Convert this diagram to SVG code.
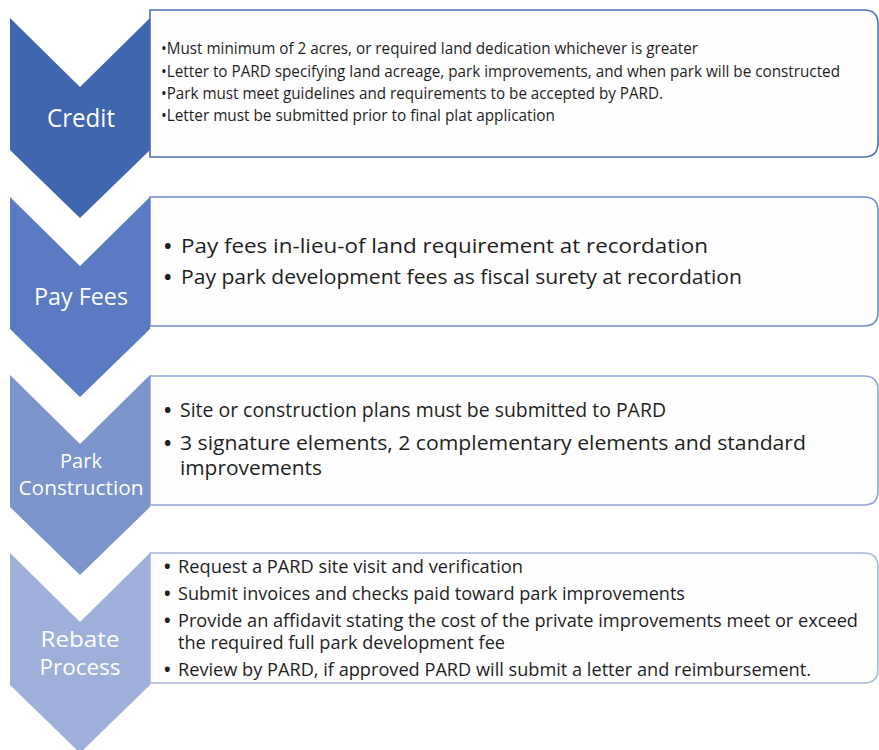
<svg xmlns="http://www.w3.org/2000/svg" width="879" height="750" viewBox="0 0 879 750">
<style>
.box{fill:#FEFEFE;stroke-width:1.6}
.lbl{font-family:"Open Sans","Noto Sans",sans-serif;fill:#FFFFFF;text-anchor:middle}
.t{font-family:"Open Sans","Noto Sans",sans-serif;fill:#1E1E1E}
.b{font-weight:bold}
</style>
<rect width="879" height="750" fill="#FFFFFF"/>
<g id="credit">
<path class="box" stroke="#4F70B5" d="M150,10 H864 Q878,10 878,24 V143 Q878,157 864,157 H150 Z"/>
<polygon fill="#4066B0" points="10,18 80,87 150,18 150,150 80,218 10,150"/>
<text class="lbl" x="81" y="127" font-size="25" textLength="68" lengthAdjust="spacingAndGlyphs">Credit</text>
<g class="t" font-size="15.5">
<text x="161" y="54" textLength="537" lengthAdjust="spacingAndGlyphs">•Must minimum of 2 acres, or required land dedication whichever is greater</text>
<text x="161" y="77" textLength="679" lengthAdjust="spacingAndGlyphs">•Letter to PARD specifying land acreage, park improvements, and when park will be constructed</text>
<text x="161" y="99" textLength="502" lengthAdjust="spacingAndGlyphs">•Park must meet guidelines and requirements to be accepted by PARD.</text>
<text x="161" y="121" textLength="394" lengthAdjust="spacingAndGlyphs">•Letter must be submitted prior to final plat application</text>
</g>
</g>
<g id="pay-fees">
<path class="box" stroke="#6F8BC9" d="M150,197 H864 Q878,197 878,211 V312 Q878,326 864,326 H150 Z"/>
<polygon fill="#5A7BC3" points="10,197 80,266 150,197 150,329 80,397 10,329"/>
<text class="lbl" x="81" y="305" font-size="24" textLength="94" lengthAdjust="spacingAndGlyphs">Pay Fees</text>
<g class="t" font-size="20">
<text class="b" x="164" y="253">•</text>
<text x="181" y="253" textLength="527" lengthAdjust="spacingAndGlyphs">Pay fees in-lieu-of land requirement at recordation</text>
<text class="b" x="164" y="284">•</text>
<text x="181" y="284" textLength="561" lengthAdjust="spacingAndGlyphs">Pay park development fees as fiscal surety at recordation</text>
</g>
</g>
<g id="park-construction">
<path class="box" stroke="#8FA3D5" d="M150,376 H864 Q878,376 878,390 V491 Q878,505 864,505 H150 Z"/>
<polygon fill="#7B94CC" points="10,375 80,444 150,375 150,507 80,575 10,507"/>
<text class="lbl" x="81" y="468" font-size="20">Park</text>
<text class="lbl" x="81" y="495" font-size="20" textLength="125" lengthAdjust="spacingAndGlyphs">Construction</text>
<g class="t" font-size="19.5">
<text class="b" x="164" y="417">•</text>
<text x="180" y="417" textLength="486" lengthAdjust="spacingAndGlyphs">Site or construction plans must be submitted to PARD</text>
<text class="b" x="164" y="450">•</text>
<text x="180" y="450" textLength="626" lengthAdjust="spacingAndGlyphs">3 signature elements, 2 complementary elements and standard</text>
<text x="180" y="475" textLength="142" lengthAdjust="spacingAndGlyphs">improvements</text>
</g>
</g>
<g id="rebate-process">
<path class="box" stroke="#A9B7DE" d="M150,553 H864 Q878,553 878,567 V669 Q878,683 864,683 H150 Z"/>
<polygon fill="#9EAFD9" points="10,553 80,622 150,553 150,685 80,753 10,685"/>
<text class="lbl" x="80" y="647" font-size="22.5" fill="#F4F6FB" textLength="79" lengthAdjust="spacingAndGlyphs">Rebate</text>
<text class="lbl" x="80" y="675" font-size="22.5" fill="#F4F6FB" textLength="81" lengthAdjust="spacingAndGlyphs">Process</text>
<g class="t" font-size="17.5">
<text class="b" x="164" y="573">•</text>
<text x="178" y="573" textLength="345" lengthAdjust="spacingAndGlyphs">Request a PARD site visit and verification</text>
<text class="b" x="164" y="600">•</text>
<text x="178" y="600" textLength="507" lengthAdjust="spacingAndGlyphs">Submit invoices and checks paid toward park improvements</text>
<text class="b" x="164" y="627">•</text>
<text x="178" y="627" textLength="680" lengthAdjust="spacingAndGlyphs">Provide an affidavit stating the cost of the private improvements meet or exceed</text>
<text x="178" y="649" textLength="327" lengthAdjust="spacingAndGlyphs">the required full park development fee</text>
<text class="b" x="164" y="676">•</text>
<text x="178" y="676" textLength="633" lengthAdjust="spacingAndGlyphs">Review by PARD, if approved PARD will submit a letter and reimbursement.</text>
</g>
</g>
<g id="connectors"></g>
</svg>
